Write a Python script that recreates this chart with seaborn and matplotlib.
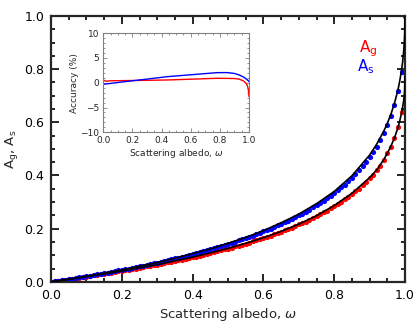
import numpy as np
import pandas as pd
import matplotlib
matplotlib.use("Agg")
import matplotlib.pyplot as plt
import seaborn as sns
from matplotlib.ticker import MultipleLocator

# albedo grid for the exact values (dots)
omega = [0.00, 0.01, 0.02, 0.03, 0.04, 0.05, 0.06, 0.07, 0.08, 0.09,
         0.10, 0.11, 0.12, 0.13, 0.14, 0.15, 0.16, 0.17, 0.18, 0.19,
         0.20, 0.21, 0.22, 0.23, 0.24, 0.25, 0.26, 0.27, 0.28, 0.29,
         0.30, 0.31, 0.32, 0.33, 0.34, 0.35, 0.36, 0.37, 0.38, 0.39,
         0.40, 0.41, 0.42, 0.43, 0.44, 0.45, 0.46, 0.47, 0.48, 0.49,
         0.50, 0.51, 0.52, 0.53, 0.54, 0.55, 0.56, 0.57, 0.58, 0.59,
         0.60, 0.61, 0.62, 0.63, 0.64, 0.65, 0.66, 0.67, 0.68, 0.69,
         0.70, 0.71, 0.72, 0.73, 0.74, 0.75, 0.76, 0.77, 0.78, 0.79,
         0.80, 0.81, 0.82, 0.83, 0.84, 0.85, 0.86, 0.87, 0.88, 0.89,
         0.90, 0.91, 0.92, 0.93, 0.94, 0.95, 0.96, 0.97, 0.98, 0.99, 1.00]

As_exact = [0.000, 0.002, 0.004, 0.006, 0.008, 0.010, 0.012, 0.015, 0.017, 0.019,
            0.021, 0.023, 0.026, 0.028, 0.030, 0.033, 0.035, 0.038, 0.040, 0.043,
            0.045, 0.048, 0.050, 0.053, 0.056, 0.058, 0.061, 0.064, 0.067, 0.070,
            0.072, 0.075, 0.078, 0.082, 0.085, 0.088, 0.091, 0.094, 0.098, 0.101,
            0.104, 0.108, 0.111, 0.115, 0.119, 0.123, 0.126, 0.130, 0.134, 0.138,
            0.143, 0.147, 0.151, 0.156, 0.160, 0.165, 0.170, 0.174, 0.179, 0.184,
            0.190, 0.195, 0.200, 0.206, 0.212, 0.218, 0.224, 0.230, 0.237, 0.243,
            0.250, 0.257, 0.264, 0.272, 0.280, 0.288, 0.296, 0.305, 0.314, 0.324,
            0.334, 0.344, 0.355, 0.366, 0.378, 0.391, 0.405, 0.419, 0.434, 0.451,
            0.469, 0.488, 0.509, 0.532, 0.559, 0.588, 0.623, 0.664, 0.717, 0.791, 0.998]

Ag_exact = [0.000, 0.002, 0.004, 0.006, 0.008, 0.010, 0.012, 0.014, 0.016, 0.018,
            0.020, 0.022, 0.024, 0.026, 0.028, 0.030, 0.032, 0.034, 0.037, 0.039,
            0.041, 0.043, 0.046, 0.048, 0.050, 0.053, 0.055, 0.058, 0.060, 0.062,
            0.065, 0.068, 0.070, 0.073, 0.076, 0.078, 0.081, 0.084, 0.087, 0.090,
            0.092, 0.095, 0.099, 0.102, 0.105, 0.108, 0.111, 0.115, 0.118, 0.122,
            0.125, 0.129, 0.133, 0.136, 0.140, 0.144, 0.148, 0.152, 0.156, 0.161,
            0.165, 0.170, 0.174, 0.179, 0.184, 0.189, 0.194, 0.199, 0.204, 0.210,
            0.216, 0.221, 0.227, 0.234, 0.240, 0.247, 0.254, 0.261, 0.268, 0.276,
            0.284, 0.293, 0.302, 0.311, 0.320, 0.330, 0.340, 0.351, 0.363, 0.375,
            0.389, 0.403, 0.419, 0.436, 0.458, 0.483, 0.509, 0.541, 0.582, 0.640, 0.795]

# analytic approximations (black lines)
omega_fit = [0.00, 0.05, 0.10, 0.15, 0.20, 0.25, 0.30, 0.35, 0.40, 0.45, 0.50,
             0.55, 0.60, 0.65, 0.70, 0.75, 0.80, 0.85, 0.90, 0.92, 0.94, 0.95,
             0.96, 0.97, 0.98, 0.985, 0.99, 0.993, 0.996, 0.998, 0.999, 1.00]
As_fit = [0.000, 0.010, 0.021, 0.033, 0.045, 0.059, 0.073, 0.089, 0.106, 0.124, 0.145,
          0.167, 0.193, 0.222, 0.255, 0.294, 0.340, 0.399, 0.477, 0.518, 0.567, 0.596,
          0.630, 0.671, 0.722, 0.755, 0.795, 0.825, 0.865, 0.902, 0.930, 1.000]
Ag_fit = [0.000, 0.010, 0.020, 0.030, 0.041, 0.053, 0.065, 0.079, 0.093, 0.109, 0.126,
          0.145, 0.166, 0.190, 0.217, 0.249, 0.287, 0.333, 0.392, 0.421, 0.460, 0.484,
          0.510, 0.541, 0.580, 0.605, 0.635, 0.655, 0.680, 0.703, 0.722, 0.773]

# accuracy of the approximations (inset, %)
omega_acc = [0.00, 0.01, 0.02, 0.05, 0.10, 0.20, 0.30, 0.44, 0.60, 0.78,
             0.85, 0.90, 0.93, 0.96, 0.98, 0.99, 0.995, 1.00]
acc_Ag = [0.55, 0.40, 0.30, 0.40, 0.42, 0.45, 0.49, 0.56, 0.72, 0.90,
          0.88, 0.85, 0.75, 0.40, -0.10, -0.70, -1.30, -2.80]
acc_As = [-0.30, -0.27, -0.23, -0.13, 0.05, 0.40, 0.74, 1.23, 1.61, 2.04,
          2.05, 1.88, 1.60, 1.20, 0.80, 0.55, 0.40, 0.20]

dots = pd.DataFrame({"omega": omega, "Ag": Ag_exact, "As": As_exact})
fit = pd.DataFrame({"omega": omega_fit, "Ag": Ag_fit, "As": As_fit})
acc = pd.DataFrame({"omega": omega_acc, "Ag": acc_Ag, "As": acc_As})

sns.set_style("ticks")
plt.rcParams["font.family"] = ["DejaVu Sans"]

fig = plt.figure(figsize=(4.15, 3.32), dpi=100)
ax = fig.add_axes([0.123, 0.151, 0.853, 0.801])

sns.scatterplot(data=dots, x="omega", y="Ag", color="red", s=14, linewidth=0, ax=ax, zorder=2)
sns.scatterplot(data=dots, x="omega", y="As", color="blue", s=14, linewidth=0, ax=ax, zorder=2)
sns.lineplot(data=fit, x="omega", y="Ag", color="black", lw=1.2, ax=ax, zorder=3)
sns.lineplot(data=fit, x="omega", y="As", color="black", lw=1.2, ax=ax, zorder=3)

ax.set_xlim(0, 1)
ax.set_ylim(0, 1)
ax.xaxis.set_major_locator(MultipleLocator(0.2))
ax.xaxis.set_minor_locator(MultipleLocator(0.05))
ax.yaxis.set_major_locator(MultipleLocator(0.2))
ax.yaxis.set_minor_locator(MultipleLocator(0.05))
ax.tick_params(which="both", direction="in", top=True, right=True, width=1.2, labelsize=9, colors="black")
ax.tick_params(which="major", length=5.5, pad=5)
ax.tick_params(which="minor", length=3)
for sp in ax.spines.values():
    sp.set_linewidth(1.6)
ax.set_xlabel("Scattering albedo, $\\omega$", fontsize=9.5, labelpad=3)
ax.set_ylabel("A$_\\mathrm{g}$, A$_\\mathrm{s}$", fontsize=9.5, labelpad=3)

ax.text(0.87, 0.865, "A$_\\mathrm{g}$", color="red", fontsize=11, transform=ax.transAxes)
ax.text(0.865, 0.79, "A$_\\mathrm{s}$", color="blue", fontsize=11, transform=ax.transAxes)

# inset
ins = fig.add_axes([0.249, 0.6015, 0.351, 0.2985])
sns.lineplot(data=acc, x="omega", y="Ag", color="red", lw=1.0, ax=ins)
sns.lineplot(data=acc, x="omega", y="As", color="blue", lw=1.0, ax=ins)
ins.set_xlim(0, 1)
ins.set_ylim(-10, 10)
ins.xaxis.set_major_locator(MultipleLocator(0.2))
ins.xaxis.set_minor_locator(MultipleLocator(0.05))
ins.yaxis.set_major_locator(MultipleLocator(5))
ins.yaxis.set_minor_locator(MultipleLocator(1))
ins.tick_params(which="both", direction="in", top=True, right=True, color="gray", width=0.6, labelsize=6.5, pad=3)
ins.tick_params(which="major", length=3)
ins.tick_params(which="minor", length=1.5)
for sp in ins.spines.values():
    sp.set_color("gray")
    sp.set_linewidth(0.8)
ins.set_xlabel("Scattering albedo, $\\omega$", fontsize=6.5, labelpad=1)
ins.set_ylabel("Accuracy (%)", fontsize=6.5, labelpad=1)

fig.savefig("out.png", dpi=100)
